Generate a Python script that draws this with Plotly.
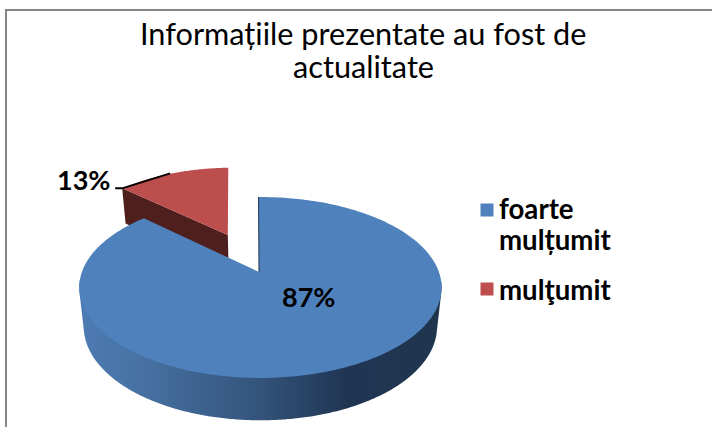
import numpy as np
import plotly.graph_objects as go

# ---- data ----
categories = [["foarte", "mulțumit"], ["mulţumit"]]
values = [87, 13]
value_labels = ["87%", "13%"]
title_lines = ["Informațiile prezentate au fost de", "actualitate"]

# ---- style / projection constants ----
BLUE, RED = "#4f81bd", "#bc4f4d"
RED_SIDE = "#4f1f1d"
FONT = "Lato"
CX, CY = 260.4, 272.0
B, A, K = 178.5, 87.8, 0.171
D, SHRINK = 38.6, 0.975
EXPLODE = 0.495
RED_TILT = (-0.0271, 0.0599, -0.0136, 0.03)
BLUE_START = -np.radians(0.7)   # slight view rotation of the first edge
BLUE_TIP_SHIFT = -1.4


def project(u, v, bottom=False):
    """Perspective scale from the pie's plane to page coordinates."""
    u, v = np.asarray(u, float), np.asarray(v, float)
    w = 1 + K * v
    x, y = B * u / w, -A * v / w
    if bottom:
        return CX + x * SHRINK, CY + y + D / np.sqrt(w)
    return CX + x, CY + y


def hull(xs, ys):
    """Convex outline of a set of projected points."""
    pts = sorted(set(zip(np.round(xs, 3).tolist(), np.round(ys, 3).tolist())))

    def half(seq):
        out = []
        for p in seq:
            while len(out) > 1 and ((out[-1][0] - out[-2][0]) * (p[1] - out[-2][1])
                                    - (out[-1][1] - out[-2][1]) * (p[0] - out[-2][0])) <= 0:
                out.pop()
            out.append(p)
        return out[:-1]

    ring = half(pts) + half(pts[::-1])
    return [p[0] for p in ring], [p[1] for p in ring]


total = sum(values)
sweep_blue = 2 * np.pi * values[0] / total
sweep_red = 2 * np.pi * values[1] / total

t_blue = np.linspace(BLUE_START, sweep_blue, 300)
bu, bv = np.sin(t_blue), np.cos(t_blue)
t_red = np.linspace(sweep_blue, sweep_blue + sweep_red, 80)
mid = sweep_blue + sweep_red / 2
ou, ov = EXPLODE * np.sin(mid), EXPLODE * np.cos(mid)
ru, rv = np.sin(t_red) + ou, np.cos(t_red) + ov
apex_x, apex_y = project(ou, ov)


def tilt(x, y):
    """Slight view skew of the pulled-out slice, about its own tip."""
    dx, dy = np.asarray(x) - apex_x, np.asarray(y) - apex_y
    a, b, c, d = RED_TILT
    return x + a * dx + b * dy, y + c * dx + d * dy


fig = go.Figure()

# red cut face
x1, y1 = tilt(*project([ru[0], ou], [rv[0], ov]))
x2, y2 = project([ou, ru[0]], [ov, rv[0]], bottom=True)
fig.add_trace(go.Scatter(x=np.r_[x1, x2], y=np.r_[y1, y2], fill="toself", mode="none",
                         fillcolor=RED_SIDE, showlegend=False, hoverinfo="skip"))
# red top
x, y = tilt(*project(np.r_[ou, ru], np.r_[ov, rv]))
fig.add_trace(go.Scatter(x=x, y=y, fill="toself", mode="none", fillcolor=RED,
                         name="mulțumit", showlegend=False))

# blue outer wall with horizontal shading: outline of the front half of both rims
t_front = np.linspace(np.radians(95), np.radians(265), 300)
xt, yt = project(np.sin(t_front), np.cos(t_front))
xb, yb = project(np.sin(t_front), np.cos(t_front), bottom=True)
wx, wy = hull(np.r_[xt, xb], np.r_[yt, yb])
fig.add_trace(go.Scatter(
    x=wx, y=wy, fill="toself", mode="none",
    fillgradient=dict(type="horizontal", start=80, stop=442,
                      colorscale=[[0, "#4d7cb3"], [0.2, "#456f9f"], [0.5, "#33537a"],
                                  [0.74, "#1f3552"], [1, "#20364f"]]),
    showlegend=False, hoverinfo="skip"))
# blue top
x, y = project(np.r_[0, bu], np.r_[0, bv])
x[0] += BLUE_TIP_SHIFT
fig.add_trace(go.Scatter(x=x, y=y, fill="toself", mode="none", fillcolor=BLUE,
                         name="foarte mulțumit", showlegend=False))
# dark sliver of the blue cut face, along the slice's first edge
fig.add_trace(go.Scatter(x=[x[1], x[0]], y=[y[1], y[0]], mode="lines",
                         line=dict(color="#1f3552", width=1),
                         showlegend=False, hoverinfo="skip"))

# leader line of the 13% label
lx, ly = tilt(*project(ru[0], rv[0]))
fig.add_trace(go.Scatter(x=[lx - 7, lx, lx + 48], y=[ly, ly, ly - 15],
                         mode="lines", line=dict(color="#000000", width=2),
                         showlegend=False, hoverinfo="skip"))

# legend swatches
fig.add_trace(go.Scatter(x=[487, 487], y=[210, 289], mode="markers",
                         marker=dict(symbol="square", size=13, color=[BLUE, RED]),
                         showlegend=False, hoverinfo="skip"))


def label(x, y, text, size, bold=True, anchor="center"):
    font = dict(size=size, color="#000000", family=FONT)
    if bold:
        font["weight"] = "bold"
    return dict(x=x, y=y, text=text, font=font, showarrow=False, xanchor=anchor, yanchor="middle")


ann = [
    label(363, 33, title_lines[0], 30.7, bold=False),
    label(363, 66, title_lines[1], 30.7, bold=False),
    label(308, 296, value_labels[0], 27),
    label(83, 179, value_labels[1], 27),
    label(497, 208, categories[0][0], 27.6, anchor="left"),
    label(497, 239, categories[0][1], 27.6, anchor="left"),
    label(497, 289, categories[1][0], 27.6, anchor="left"),
]

shapes = [
    dict(type="line", x0=6, x1=6, y0=10, y1=427, line=dict(color="#868686", width=2)),
    dict(type="line", x0=5, x1=712, y0=10, y1=10, line=dict(color="#868686", width=2)),
]

fig.update_layout(
    width=712, height=427, margin=dict(l=0, r=0, t=0, b=0),
    paper_bgcolor="#ffffff", plot_bgcolor="#ffffff", showlegend=False,
    xaxis=dict(range=[0, 712], visible=False, fixedrange=True),
    yaxis=dict(range=[427, 0], visible=False, fixedrange=True),
    annotations=ann, shapes=shapes,
)
fig.write_html("out.html", config=dict(displayModeBar=False),
               post_script="document.body.style.margin='0';document.body.style.overflow='hidden';")
